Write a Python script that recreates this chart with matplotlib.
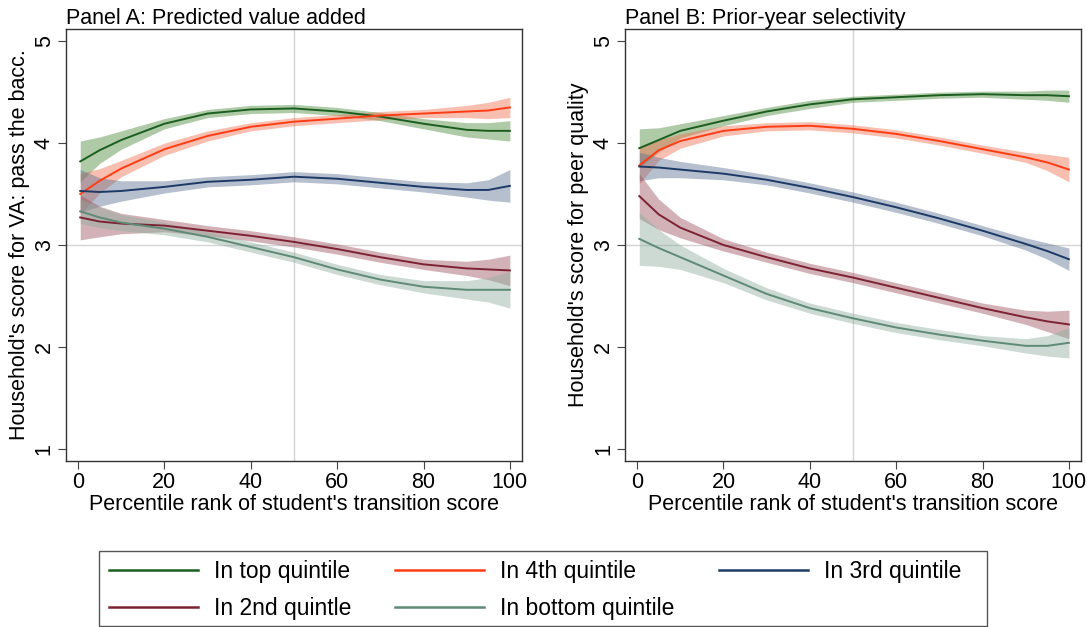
import matplotlib.pyplot as plt
from matplotlib.patches import Rectangle
import numpy as np

plt.rcParams['font.family'] = ['Liberation Sans', 'DejaVu Sans']

x = [0.5, 5, 10, 20, 30, 40, 50, 60, 70, 80, 90, 95, 100]

labels = ['In top quintile', 'In 4th quintile', 'In 3rd quintile',
          'In 2nd quintle', 'In bottom quintile']
line_colors = ['#1b5e20', '#ff3d14', '#1c3a66', '#7d2233', '#5e8a76']
band_colors = ['#4f8a3c', '#f0704f', '#5d7290', '#9c5560', '#8fae9f']

# Panel A: predicted value added
a_mid = [
    [3.82, 3.93, 4.03, 4.19, 4.29, 4.33, 4.34, 4.31, 4.26, 4.19, 4.13, 4.12, 4.12],
    [3.50, 3.63, 3.75, 3.94, 4.07, 4.16, 4.21, 4.24, 4.27, 4.29, 4.31, 4.32, 4.35],
    [3.53, 3.52, 3.53, 3.57, 3.62, 3.64, 3.67, 3.65, 3.61, 3.57, 3.54, 3.54, 3.58],
    [3.27, 3.23, 3.21, 3.19, 3.14, 3.09, 3.03, 2.96, 2.88, 2.81, 2.77, 2.76, 2.75],
    [3.33, 3.27, 3.22, 3.16, 3.08, 2.98, 2.88, 2.76, 2.66, 2.59, 2.56, 2.56, 2.56],
]
a_half = [
    [0.20, 0.13, 0.09, 0.05, 0.04, 0.04, 0.04, 0.04, 0.04, 0.05, 0.07, 0.08, 0.10],
    [0.20, 0.12, 0.08, 0.06, 0.05, 0.04, 0.04, 0.04, 0.04, 0.04, 0.06, 0.08, 0.10],
    [0.21, 0.14, 0.10, 0.06, 0.05, 0.05, 0.05, 0.05, 0.05, 0.05, 0.07, 0.10, 0.16],
    [0.22, 0.15, 0.10, 0.06, 0.05, 0.05, 0.05, 0.05, 0.05, 0.05, 0.07, 0.10, 0.15],
    [0.12, 0.10, 0.08, 0.06, 0.05, 0.05, 0.05, 0.05, 0.05, 0.06, 0.09, 0.12, 0.18],
]

# Panel B: prior-year selectivity
b_mid = [
    [3.95, 4.03, 4.12, 4.22, 4.31, 4.38, 4.43, 4.45, 4.47, 4.48, 4.47, 4.47, 4.46],
    [3.78, 3.93, 4.02, 4.12, 4.16, 4.17, 4.14, 4.09, 4.02, 3.94, 3.86, 3.81, 3.74],
    [3.77, 3.76, 3.74, 3.70, 3.64, 3.56, 3.47, 3.37, 3.26, 3.14, 3.01, 2.94, 2.86],
    [3.48, 3.30, 3.17, 3.00, 2.88, 2.77, 2.68, 2.58, 2.48, 2.38, 2.29, 2.25, 2.22],
    [3.06, 2.97, 2.88, 2.70, 2.52, 2.38, 2.28, 2.19, 2.12, 2.06, 2.01, 2.01, 2.04],
]
b_half = [
    [0.19, 0.12, 0.07, 0.05, 0.04, 0.04, 0.03, 0.03, 0.03, 0.03, 0.04, 0.05, 0.06],
    [0.18, 0.10, 0.07, 0.05, 0.04, 0.04, 0.04, 0.04, 0.04, 0.04, 0.05, 0.08, 0.12],
    [0.14, 0.10, 0.08, 0.06, 0.05, 0.05, 0.05, 0.05, 0.05, 0.05, 0.06, 0.08, 0.11],
    [0.22, 0.15, 0.10, 0.06, 0.05, 0.05, 0.05, 0.05, 0.05, 0.05, 0.07, 0.10, 0.14],
    [0.26, 0.18, 0.12, 0.07, 0.06, 0.05, 0.05, 0.05, 0.05, 0.05, 0.07, 0.10, 0.15],
]

titles = ['Panel A: Predicted value added', 'Panel B: Prior-year selectivity']
ylabels = ["Household's score for VA: pass the bacc.", "Household's score for peer quality"]
xlabel = "Percentile rank of student's transition score"

fs = 15.5
W, H = 1087, 627
fig = plt.figure(figsize=(W / 100, H / 100), dpi=100)
axA = fig.add_axes([0.0607, 0.2648, 0.4195, 0.689])
axB = fig.add_axes([0.575, 0.2648, 0.4195, 0.689])

handles = []
for ax, mids, halves, title, ylab in [(axA, a_mid, a_half, titles[0], ylabels[0]),
                                      (axB, b_mid, b_half, titles[1], ylabels[1])]:
    ax.axvline(50, color='#d4d4d4', lw=1, zorder=0)
    ax.axhline(3, color='#d4d4d4', lw=1, zorder=0)
    handles = []
    for i in range(len(labels)):
        m = np.array(mids[i])
        h = np.array(halves[i])
        ax.fill_between(x, m - h, m + h, color=band_colors[i], alpha=0.45, lw=0)
        ln, = ax.plot(x, m, color=line_colors[i], lw=1.4, label=labels[i])
        handles.append(ln)
    ax.set_xlim(-2.8, 102.8)
    ax.set_ylim(0.88, 5.12)
    ax.set_xticks([0, 20, 40, 60, 80, 100])
    ax.set_yticks([1, 2, 3, 4, 5])
    ax.tick_params(axis='both', labelsize=fs, length=6, color='#444444',
                   direction='out', pad=2)
    for t in ax.get_yticklabels():
        t.set_rotation(90)
        t.set_va('center')
    ax.set_xlabel(xlabel, fontsize=fs, labelpad=1)
    ax.set_ylabel(ylab, fontsize=fs, labelpad=3)
    ax.set_title(title, fontsize=fs, loc='left', pad=3)
    for s in ax.spines.values():
        s.set_color('#333333')
        s.set_linewidth(1.0)

# legend frame drawn separately
fig.patches.append(Rectangle((99 / W, 1 - 626 / H), 888 / W, 75 / H,
                             transform=fig.transFigure, fill=False,
                             edgecolor='#555555', lw=1.0))

# column-major order so that rows read like the reference
order = [0, 3, 1, 4, 2]
lfs = 16.5
px = lfs * 100 / 72
leg = fig.legend([handles[i] for i in order], [labels[i] for i in order],
                 loc='upper left', ncol=3,
                 bbox_to_anchor=(109 / W, 1 - 560 / H),
                 fontsize=lfs, handlelength=89 / px, handletextpad=16 / px,
                 columnspacing=44 / px, frameon=False,
                 borderaxespad=0, borderpad=0, labelspacing=0.62)
for ln in leg.get_lines():
    ln.set_linewidth(1.8)

fig.savefig('out.png', dpi=100)
